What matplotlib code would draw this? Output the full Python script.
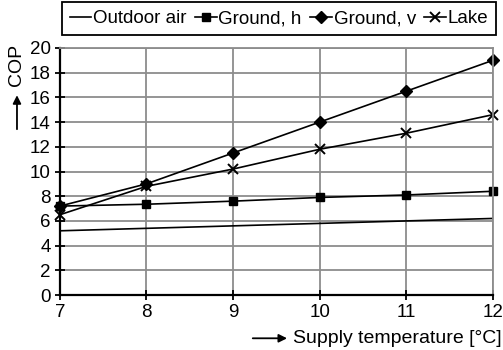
import numpy as np
import matplotlib.pyplot as plt

plt.rcParams['font.family'] = ['Liberation Sans', 'DejaVu Sans']

# Supply temperature [°C] and COP of each heat source
supply_temp = [7, 8, 9, 10, 11, 12]
cop_outdoor = [5.2, 5.4, 5.6, 5.8, 6.0, 6.2]
cop_ground_h = [7.2, 7.35, 7.6, 7.9, 8.1, 8.4]
cop_ground_v = [7.2, 9.0, 11.5, 14.0, 16.5, 19.0]
cop_lake = [6.5, 8.8, 10.2, 11.8, 13.1, 14.6]

fig = plt.figure(figsize=(5.03, 3.5), dpi=100)
ax = fig.add_axes([0.119, 0.157, 0.861, 0.706])

lw = 1.2
ax.plot(supply_temp, cop_outdoor, color='black', lw=lw, label='Outdoor air')
ax.plot(supply_temp, cop_ground_h, color='black', lw=lw, marker='s', ms=6,
        label='Ground, h', clip_on=False)
ax.plot(supply_temp, cop_ground_v, color='black', lw=lw, marker='D', ms=6.5,
        label='Ground, v', clip_on=False)
ax.plot(supply_temp, cop_lake, color='black', lw=lw, marker='x', ms=7, mew=1.4,
        label='Lake', clip_on=False)

ax.set_xlim(7, 12)
ax.set_ylim(0, 20)
ax.set_xticks(supply_temp)
ax.set_yticks(np.arange(0, 21, 2))
ax.grid(True, color='#8c8c8c', lw=1.3)
ax.set_axisbelow(True)
for side in ['top', 'right']:
    ax.spines[side].set_color('#8c8c8c')
    ax.spines[side].set_linewidth(1.3)
for side in ['left', 'bottom']:
    ax.spines[side].set_linewidth(1.6)
ax.tick_params(direction='inout', length=7, width=1.3, labelsize=13.5, pad=3)

# axis captions with leading arrows
ax.annotate('', xy=(0.531, -0.175), xytext=(0.439, -0.175), xycoords='axes fraction',
            arrowprops=dict(arrowstyle='-|>', color='black', lw=1.3, mutation_scale=12))
ax.text(0.538, -0.175, 'Supply temperature [°C]', transform=ax.transAxes,
        fontsize=14, va='center', ha='left')
ax.annotate('', xy=(-0.099, 0.82), xytext=(-0.099, 0.66), xycoords='axes fraction',
            arrowprops=dict(arrowstyle='-|>', color='black', lw=1.3, mutation_scale=12))
ax.text(-0.099, 0.845, 'COP', transform=ax.transAxes, fontsize=14,
        rotation=90, ha='center', va='bottom')

leg = fig.legend(loc='upper right', bbox_to_anchor=(0.986, 0.993), borderaxespad=0,
                 ncol=4, fontsize=13.5, handlelength=1.15,
                 handletextpad=0.1, columnspacing=0.45, borderpad=0.4,
                 fancybox=False, edgecolor='black', framealpha=1)
leg.get_frame().set_linewidth(1.3)

fig.savefig('out.png', dpi=100)
